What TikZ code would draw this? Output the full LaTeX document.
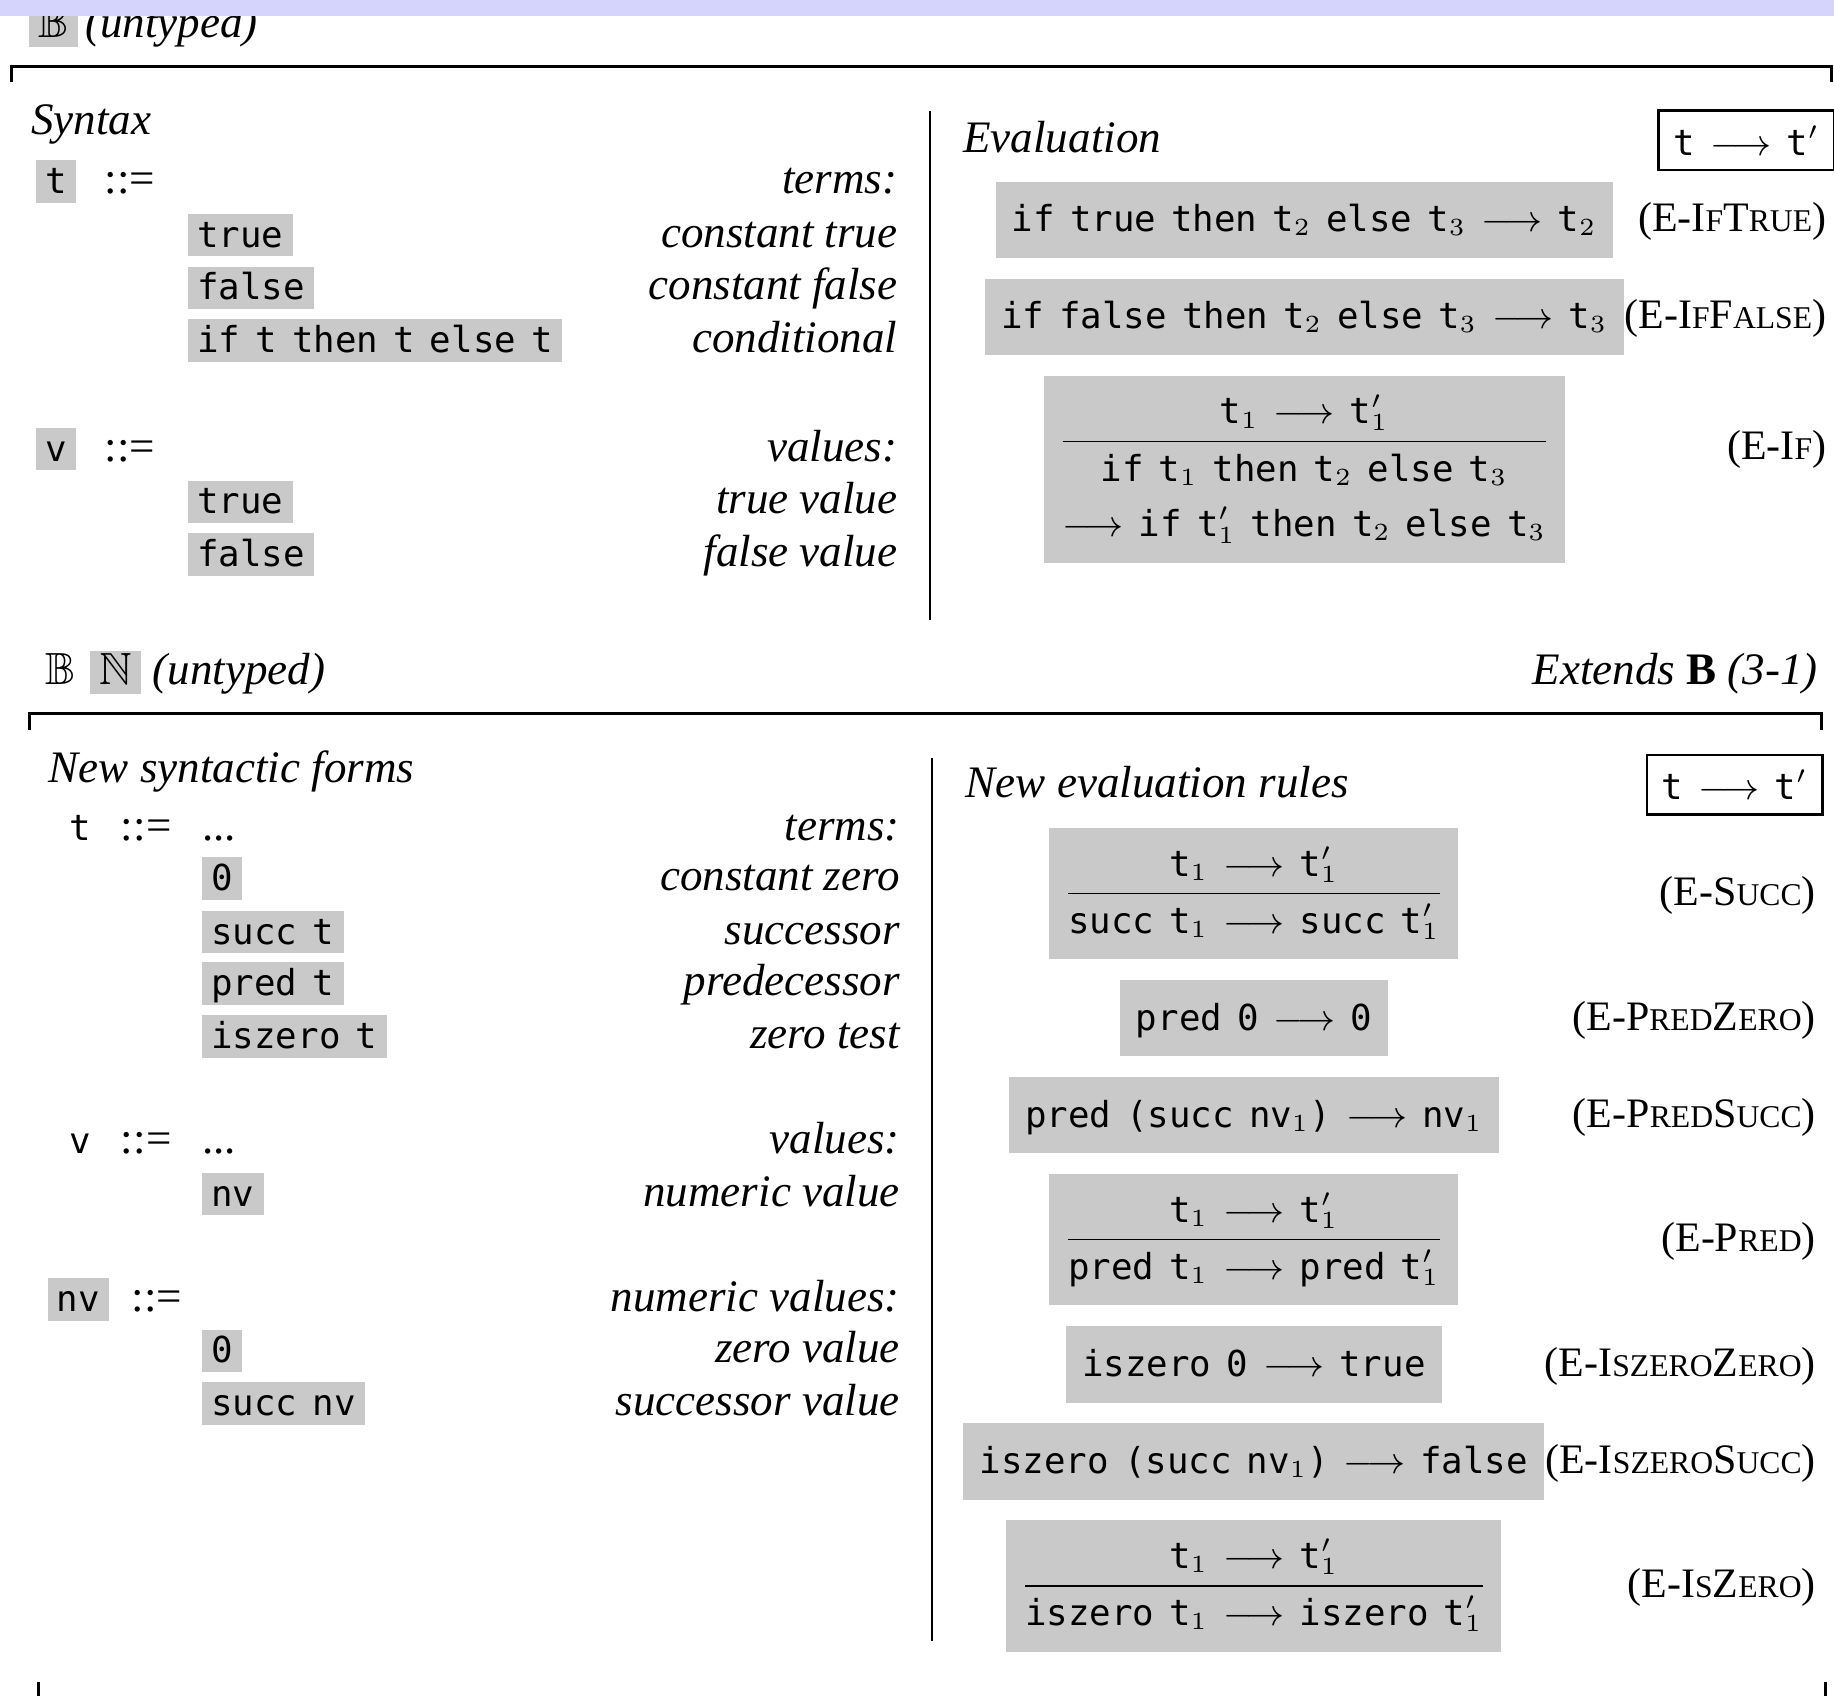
\documentclass[tikz,border=0pt,11pt]{standalone}
\usepackage{amssymb}
\usepackage{fontspec}
\setmainfont{Liberation Serif}
\setmonofont[WordSpace=0.7]{DejaVu Sans Mono}
\usetikzlibrary{positioning}
\definecolor{band}{RGB}{212,212,252}
\definecolor{shade}{RGB}{201,201,201}
\newcommand\mono{\ttfamily\fontsize{8.7}{13.5}\selectfont}
\newcommand\sm[1]{{\fontsize{7.7}{10}\selectfont #1}}
\newcommand\evto{$\longrightarrow$}
\tikzstyle{txt} = [inner sep=0pt, text height=1.6ex, text depth=0.45ex]
\tikzstyle{desclbl} = [txt, font=\itshape, anchor=east]
\tikzstyle{rname} = [txt, anchor=east, font=\fontsize{10.2}{12}\selectfont]
\tikzstyle{termbox} = [fill=shade, font=\mono, inner xsep=0.08cm, inner ysep=0pt, minimum height=0.33cm, text height=1.6ex, text depth=0.45ex]
\tikzstyle{rulebox} = [fill=shade, font=\mono, inner xsep=0.14cm, inner ysep=0pt, minimum height=0.655cm, text height=1.6ex, text depth=0.45ex]
\tikzstyle{fracbox} = [fill=shade, font=\mono, inner xsep=0.16cm, inner ysep=2.3pt]
\tikzstyle{judg} = [draw, line width=0.6pt, font=\mono, minimum width=1.37cm, minimum height=0.49cm]
\tikzstyle{frame} = [line width=0.75pt]

\begin{document}
\begin{tikzpicture}[x=0.01cm, y=-0.01cm]
    \useasboundingbox (0,0) rectangle (1568,1450);

    % B (untyped)
    \node[termbox, font=\normalfont, minimum width=0.32cm] (bA) at (46,22) {$\mathbb{B}$};
    \node[txt, anchor=west, font=\itshape] (untA) at (72,22) {(untyped)};
    \draw[frame] (10,70) -- (10,57) -- (1566,57) -- (1566,70);

    \coordinate (dA) at (768,0);
    \node[txt, anchor=west, font=\itshape] (synA) at (26,105) {Syntax};
    \node[termbox, anchor=west] (tA) at (30,155) {t};
    \node[txt] (isA) at (111,155) {::=};
    \node[desclbl] (termsA) at (tA -| dA) {terms:};
    \node[termbox, anchor=west] (trueA) at (160,201) {true};
    \node[desclbl] (ctrueA) at (trueA -| dA) {constant true};
    \node[termbox, anchor=west] (falseA) at (160,246) {false};
    \node[desclbl] (cfalseA) at (falseA -| dA) {constant false};
    \node[termbox, anchor=west] (ifA) at (160,291) {if t then t else t};
    \node[desclbl] (condA) at (ifA -| dA) {conditional};
    \node[termbox, anchor=west] (vA) at (30,384) {v};
    \node[txt] (isvA) at (111,384) {::=};
    \node[desclbl] (valsA) at (vA -| dA) {values:};
    \node[termbox, anchor=west] (vtrueA) at (160,429) {true};
    \node[desclbl] (tvalA) at (vtrueA -| dA) {true value};
    \node[termbox, anchor=west] (vfalseA) at (160,474) {false};
    \node[desclbl] (fvalA) at (vfalseA -| dA) {false value};

    \draw[line width=0.5pt] (795,95) -- (795,530);

    \coordinate (rA) at (1562,0);
    \node[txt, anchor=west, font=\itshape] (evalA) at (823,120) {Evaluation};
    \node[judg] (jA) at (1493,120) {t \evto{} t$'$};
    \node[rulebox] (iftrue) at (1115,188) {if true then t$_2$ else t$_3$ \evto{} t$_2$};
    \node[rname] (niftrue) at (iftrue -| rA) {(E-I\sm{F}T\sm{RUE})};
    \node[rulebox, below=0.16cm of iftrue] (iffalse) {if false then t$_2$ else t$_3$ \evto{} t$_3$};
    \node[rname] (niffalse) at (iffalse -| rA) {(E-I\sm{F}F\sm{ALSE})};
    \node[fracbox, below=0.16cm of iffalse] (eif) {\begin{tabular}{@{}c@{}}
        t$_1$ \evto{} t$'_1$\\\hline
        if t$_1$ then t$_2$ else t$_3$\\
        \evto{} if t$'_1$ then t$_2$ else t$_3$\end{tabular}};
    \node[rname] (neif) at (1562,383) {(E-I\sm{F})};

    % B N (untyped)
    \node[txt] (bB) at (52,575) {$\mathbb{B}$};
    \node[termbox, font=\normalfont, minimum width=0.38cm, minimum height=0.35cm] (nB) at (99,575) {$\mathbb{N}$};
    \node[txt, anchor=west, font=\itshape] (untB) at (130,575) {(untyped)};
    \node[txt, anchor=east] (extB) at (1555,575) {\textit{Extends} \textbf{B} \textit{(3-1)}};
    \draw[frame] (25,624) -- (25,610) -- (1557,610) -- (1557,624);

    \coordinate (dB) at (770,0);
    \node[txt, anchor=west, font=\itshape] (synB) at (41,659) {New syntactic forms};
    \node[txt, font=\mono] (tB) at (69,708) {t};
    \node[txt] (isB) at (125,708) {::=};
    \node[txt, anchor=west] (dotsB) at (172,708) {...};
    \node[desclbl] (termsB) at (tB -| dB) {terms:};
    \node[termbox, anchor=west] (zeroB) at (172,751) {0};
    \node[desclbl] (czeroB) at (zeroB -| dB) {constant zero};
    \node[termbox, anchor=west] (succB) at (172,797) {succ t};
    \node[desclbl] (csuccB) at (succB -| dB) {successor};
    \node[termbox, anchor=west] (predB) at (172,841) {pred t};
    \node[desclbl] (cpredB) at (predB -| dB) {predecessor};
    \node[termbox, anchor=west] (iszB) at (172,886) {iszero t};
    \node[desclbl] (ciszB) at (iszB -| dB) {zero test};
    \node[txt, font=\mono] (vB) at (69,976) {v};
    \node[txt] (isvB) at (125,976) {::=};
    \node[txt, anchor=west] (dotsvB) at (172,976) {...};
    \node[desclbl] (valsB) at (vB -| dB) {values:};
    \node[termbox, anchor=west] (nvB) at (172,1021) {nv};
    \node[desclbl] (cnvB) at (nvB -| dB) {numeric value};
    \node[termbox, anchor=west] (nvdefB) at (40,1111) {nv};
    \node[txt] (isnvB) at (134,1111) {::=};
    \node[desclbl] (nvalsB) at (nvdefB -| dB) {numeric values:};
    \node[termbox, anchor=west] (nzeroB) at (172,1155) {0};
    \node[desclbl] (czvB) at (nzeroB -| dB) {zero value};
    \node[termbox, anchor=west] (nsuccB) at (172,1200) {succ nv};
    \node[desclbl] (csvB) at (nsuccB -| dB) {successor value};

    \draw[line width=0.5pt] (797,648) -- (797,1403);

    \coordinate (rB) at (1553,0);
    \node[txt, anchor=west, font=\itshape] (evalB) at (825,672) {New evaluation rules};
    \node[judg] (jB) at (1483,671) {t \evto{} t$'$};
    \node[fracbox] (esucc) at (1072,764) {\begin{tabular}{@{}c@{}}
        t$_1$ \evto{} t$'_1$\\\hline
        succ t$_1$ \evto{} succ t$'_1$\end{tabular}};
    \node[rname] (nesucc) at (esucc -| rB) {(E-S\sm{UCC})};
    \node[rulebox, below=0.16cm of esucc] (epz) {pred 0 \evto{} 0};
    \node[rname] (nepz) at (epz -| rB) {(E-P\sm{RED}Z\sm{ERO})};
    \node[rulebox, below=0.16cm of epz] (eps) {pred (succ nv$_1$) \evto{} nv$_1$};
    \node[rname] (neps) at (eps -| rB) {(E-P\sm{RED}S\sm{UCC})};
    \node[fracbox, below=0.16cm of eps] (epred) {\begin{tabular}{@{}c@{}}
        t$_1$ \evto{} t$'_1$\\\hline
        pred t$_1$ \evto{} pred t$'_1$\end{tabular}};
    \node[rname] (nepred) at (epred -| rB) {(E-P\sm{RED})};
    \node[rulebox, below=0.16cm of epred] (eiz) {iszero 0 \evto{} true};
    \node[rname] (neiz) at (eiz -| rB) {(E-I\sm{SZERO}Z\sm{ERO})};
    \node[rulebox, below=0.16cm of eiz] (eis) {iszero (succ nv$_1$) \evto{} false};
    \node[rname] (neis) at (eis -| rB) {(E-I\sm{SZERO}S\sm{UCC})};
    \node[fracbox, below=0.16cm of eis] (eisz) {\begin{tabular}{@{}c@{}}
        t$_1$ \evto{} t$'_1$\\\hline
        iszero t$_1$ \evto{} iszero t$'_1$\end{tabular}};
    \node[rname] (neisz) at (eisz -| rB) {(E-I\sm{S}Z\sm{ERO})};

    \draw[frame] (33,1438) -- (33,1452);
    \draw[frame] (1561,1438) -- (1561,1452);

    \fill[band] (0,0) rectangle (1568,14);
\end{tikzpicture}
\end{document}
